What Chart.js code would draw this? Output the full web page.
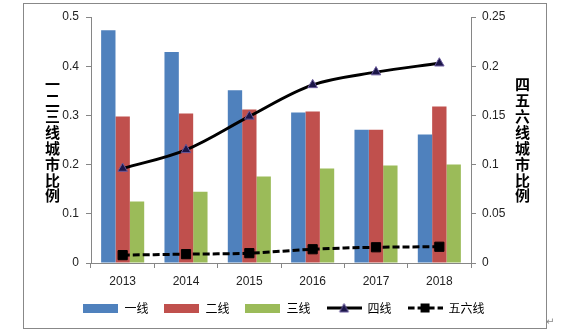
<!DOCTYPE html>
<html>
<head>
<meta charset="utf-8">
<script src="https://cdn.jsdelivr.net/npm/chart.js@4/dist/chart.umd.min.js"></script>
<style>
    body { margin: 0; background: #fff; }
    #wrap { position: relative; width: 568px; height: 334px; }
    #frame { position: absolute; left: 23px; top: 3px; width: 522px; height: 324px; border: 1px solid #888; pointer-events: none; }
    .axis-title { position: absolute; writing-mode: vertical-rl; font: bold 15px "Noto Sans CJK SC", sans-serif; letter-spacing: 0.9px; color: #000; }
    #mark { position: absolute; left: 546px; top: 316px; font: 10px "DejaVu Sans", sans-serif; color: #888; }
</style>
</head>
<body>
<div id="wrap">
    <canvas id="myChart" width="568" height="334"></canvas>
    <div id="frame"></div>
    <div class="axis-title" style="left:42px; top:77px;">一二三线城市比例</div>
    <div class="axis-title" style="left:512px; top:77px;">四五六线城市比例</div>
    <div id="mark">↵</div>
</div>
<script>
// data
var years = ["2013", "2014", "2015", "2016", "2017", "2018"];
var tier1 = [0.473, 0.429, 0.351, 0.306, 0.271, 0.261];
var tier2 = [0.298, 0.304, 0.312, 0.308, 0.271, 0.318];
var tier3 = [0.125, 0.145, 0.176, 0.192, 0.198, 0.200];
var tier4 = [0.096, 0.115, 0.149, 0.181, 0.194, 0.203];
var tier56 = [0.008, 0.009, 0.010, 0.014, 0.016, 0.0165];

var names = ["一线", "二线", "三线", "四线", "五六线"];
var blue = "#4F81BD", red = "#C0504D", green = "#9BBB59";
var triFill = "#1b1648", triEdge = "#6a5a9c";

// little pictures for the legend keys
function barIcon(color) {
    var c = document.createElement("canvas");
    c.width = 35; c.height = 9;
    var ctx = c.getContext("2d");
    ctx.fillStyle = color;
    ctx.fillRect(0, 0, 35, 9);
    return c;
}

function lineIcon(dashed) {
    var c = document.createElement("canvas");
    c.width = 35; c.height = 12;
    var ctx = c.getContext("2d");
    ctx.strokeStyle = "#000";
    ctx.lineWidth = 3;
    if (dashed) ctx.setLineDash([7, 3]);
    ctx.beginPath();
    ctx.moveTo(0, 6);
    ctx.lineTo(35, 6);
    ctx.stroke();
    ctx.setLineDash([]);
    if (dashed) {
        ctx.fillStyle = "#000";
        ctx.fillRect(13, 1.5, 9, 9);
    } else {
        ctx.fillStyle = triFill;
        ctx.strokeStyle = triEdge;
        ctx.lineWidth = 1;
        ctx.beginPath();
        ctx.moveTo(17.5, 1.5);
        ctx.lineTo(22, 10);
        ctx.lineTo(13, 10);
        ctx.closePath();
        ctx.fill();
        ctx.stroke();
    }
    return c;
}

var icons = [barIcon(blue), barIcon(red), barIcon(green), lineIcon(false), lineIcon(true)];

var tickFont = { family: "'Liberation Sans', Arial, sans-serif", size: 12 };
var axisColor = "#868686";

var ctx = document.getElementById("myChart").getContext("2d");
var myChart = new Chart(ctx, {
    data: {
        labels: years,
        datasets: [
            { type: "bar", label: names[0], data: tier1, backgroundColor: blue, yAxisID: "y", order: 1 },
            { type: "bar", label: names[1], data: tier2, backgroundColor: red, yAxisID: "y", order: 1 },
            { type: "bar", label: names[2], data: tier3, backgroundColor: green, yAxisID: "y", order: 1 },
            {
                type: "line", label: names[3], data: tier4, yAxisID: "y1", order: 0,
                borderColor: "#000", borderWidth: 3, tension: 0.35,
                pointStyle: "triangle", pointRadius: 5.5, pointBackgroundColor: triFill,
                pointBorderColor: triEdge, pointBorderWidth: 1
            },
            {
                type: "line", label: names[4], data: tier56, yAxisID: "y1", order: 0,
                borderColor: "#000", borderWidth: 3, borderDash: [7, 3], tension: 0.35,
                pointStyle: "rect", pointRadius: 6.5, pointBackgroundColor: "#000",
                pointBorderColor: "#000", pointBorderWidth: 1
            }
        ]
    },
    options: {
        responsive: false,
        animation: false,
        layout: { padding: { top: 17, bottom: 10, left: 0, right: 0 } },
        datasets: {
            bar: { categoryPercentage: 0.68, barPercentage: 1 }
        },
        scales: {
            x: {
                type: "category",
                position: "bottom",
                grid: { offset: true, drawOnChartArea: false, tickLength: 5, color: axisColor },
                border: { color: axisColor },
                ticks: { font: tickFont, color: "#222", padding: 6 },
                afterFit: function(s) { s.height = 23; }
            },
            y: {
                type: "linear",
                position: "left", min: 0, max: 0.5,
                grid: { drawOnChartArea: false, tickLength: 5, color: axisColor },
                border: { color: axisColor },
                ticks: {
                    stepSize: 0.1, font: tickFont, color: "#222", padding: 7,
                    callback: function(v) { return String(+v.toFixed(1)); }
                },
                afterFit: function(s) { s.width = 91; }
            },
            y1: {
                type: "linear",
                position: "right", min: 0, max: 0.25,
                grid: { drawOnChartArea: false, tickLength: 5, color: axisColor },
                border: { color: axisColor },
                ticks: {
                    stepSize: 0.05, font: tickFont, color: "#222", padding: 6,
                    callback: function(v) { return String(+v.toFixed(2)); }
                },
                afterFit: function(s) { s.width = 97; }
            }
        },
        plugins: {
            tooltip: { enabled: false },
            legend: {
                position: "bottom",
                labels: {
                    usePointStyle: true,
                    pointStyleWidth: 35,
                    padding: 16,
                    color: "#000",
                    font: { family: "'Noto Sans CJK SC', sans-serif", size: 12 },
                    generateLabels: function(chart) {
                        var items = [];
                        for (var i = 0; i < names.length; i++) {
                            items.push({
                                text: names[i],
                                pointStyle: icons[i],
                                fillStyle: "transparent",
                                strokeStyle: "transparent",
                                lineWidth: 0,
                                hidden: false,
                                datasetIndex: i,
                                fontColor: "#000"
                            });
                        }
                        return items;
                    }
                }
            }
        }
    }
});
</script>
</body>
</html>
